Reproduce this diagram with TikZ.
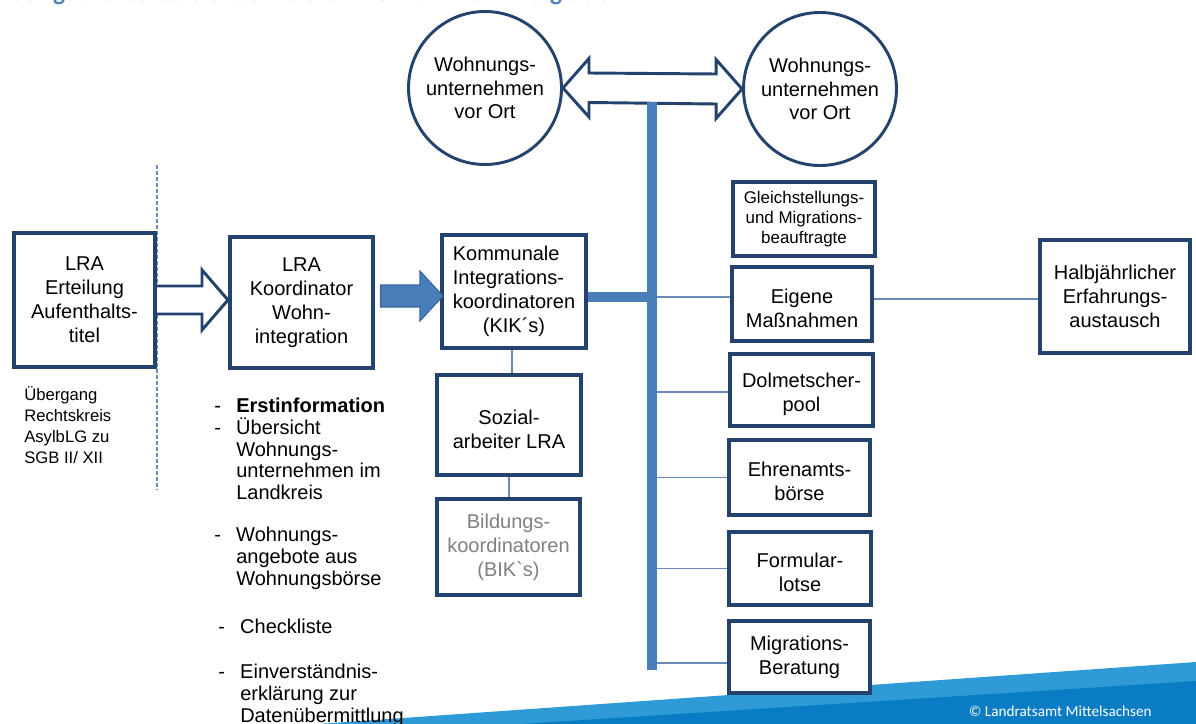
\documentclass[tikz,border=0pt]{standalone}
\usepackage{fontspec}
\setmainfont{Liberation Sans}[Ligatures=TeXOff]
\newfontfamily\calibri{Carlito}
\usetikzlibrary{calc}
\definecolor{navy}{HTML}{23426E}
\definecolor{accent}{HTML}{4A7EBB}
\definecolor{accentdark}{HTML}{3A6699}
\definecolor{thinln}{HTML}{6A8CB8}
\definecolor{titleblue}{HTML}{4F81BD}
\definecolor{bandlight}{HTML}{2E9BD6}
\definecolor{banddark}{HTML}{0A7CC4}
\definecolor{graytxt}{HTML}{808080}
\newcommand\dashitem{\makebox[16.5pt][l]{-}}
\newcommand\lowr{\rule{0pt}{17pt}}
\begin{document}
\begin{tikzpicture}[x=0.75pt,y=-0.75pt,
  box/.style 2 args={draw=navy, line width=3pt, minimum width=#1*0.75pt, minimum height=#2*0.75pt, inner sep=0pt, align=center, font=\fontsize{15}{18}\selectfont, fill=white},
  circ/.style={draw=navy, line width=2.2pt, circle, minimum size=153*0.75pt, inner sep=0pt, align=center, font=\fontsize{15}{17.6}\selectfont},
  thinline/.style={draw=thinln, line width=1.1pt},
  thickbar/.style={draw=accent, line width=7.5pt},
  hollow/.style={draw=navy, line width=2.2pt, fill=white, line join=miter},
  plain/.style={inner sep=0pt, align=left},
]
\useasboundingbox (0,0) rectangle (1196,724);
\clip (0,0) rectangle (1196,724);

% footer band
\fill[bandlight] (318,724) -- (1196,662) -- (1196,724) -- cycle;
\fill[banddark] (520,724) -- (1196,681) -- (1196,724) -- cycle;
\node[anchor=base east, text=white, inner sep=0pt, font=\calibri\fontsize{11.4}{13}\selectfont] (copy) at (1152,716) {© Landratsamt Mittelsachsen};

% title (cut off at the top, as in the original)
\node[anchor=base east, inner sep=0pt, text=titleblue, font=\calibri\bfseries\fontsize{19}{21}\selectfont] (title) at (625,1) {Abbildung 1: Unterstützende Maßnahmen zur Wohnintegration};

% dashed separator
\coordinate (dtop) at (157,165);
\coordinate (dbot) at (157,490);
\draw[draw=thinln, line width=1.2pt, dash pattern=on 3pt off 1.5pt] (dtop) -- (dbot);

% circles
\node[circ] (w1) at (485,88) {Wohnungs-\\unternehmen\\vor Ort};
\node[circ] (w2) at (820,89) {Wohnungs-\\unternehmen\\vor Ort};

% double block arrow between circles
\draw[hollow] (w1.east) -- ++(26,-29.5) -- ++(0,14.5) -- ($(w2.west)+(-26,-15)$) -- ++(0,-14.5) -- (w2.west) -- ++(-26,29.5) -- ++(0,-14.5) -- ($(w1.east)+(26,14.5)$) -- ++(0,14.5) -- cycle;

% boxes
\node[box={141}{134}] (lra1) at (84.5,300) {LRA\\Erteilung\\Aufenthalts-\\titel};
\node[box={143}{131}] (lra2) at (301.5,302.5) {LRA\\Koordinator\\Wohn-\\integration};
\node[box={144}{113}, align=left] (kik) at (514,291.5) {Kommunale\\Integrations-\\koordinatoren\\\hspace*{22.5pt}(KIK´s)};
\node[box={144}{100}] (sozial) at (509,425) {\lowr Sozial-\\arbeiter LRA};
\node[box={143}{96}, text=graytxt] (bik) at (508.5,547) {Bildungs-\\koordinatoren\\(BIK`s)};
\node[box={142}{74}, font=\fontsize{12.7}{15}\selectfont] (gleich) at (804,219) {Gleichstellungs-\\und Migrations-\\beauftragte};
\node[box={140}{74}] (eigene) at (802,304) {\lowr Eigene\\Maßnahmen};
\node[box={143}{72}] (dolm) at (801.5,390) {\lowr Dolmetscher-\\pool};
\node[box={141}{75}] (ehren) at (799.5,477.5) {\lowr Ehrenamts-\\börse};
\node[box={142}{73}] (form) at (800,568.5) {\lowr Formular-\\lotse};
\node[box={141}{72}] (migr) at (799.5,657) {Migrations-\\Beratung};
\node[box={150}{113}] (halb) at (1115,296.5) {Halbjährlicher\\Erfahrungs-\\austausch};

% bar
\coordinate (bartop) at (652,102);
\coordinate (barbot) at (652,670);

% thin branches
\coordinate (te) at ($(eigene.west)+(0,-7)$);
\coordinate (td) at ($(dolm.west)+(0,2)$);
\coordinate (tr) at ($(ehren.west)+(0,0)$);
\coordinate (tf) at ($(form.west)+(0,0)$);
\coordinate (tm) at ($(migr.west)+(0,6)$);
\draw[thinline] (bartop |- te) -- (te);
\draw[thinline] (bartop |- td) -- (td);
\draw[thinline] (bartop |- tr) -- (tr);
\draw[thinline] (bartop |- tf) -- (tf);
\draw[thinline] (bartop |- tm) -- (tm);
\coordinate (th) at ($(eigene.east)+(0,-5)$);
\draw[thinline] (th) -- (halb.west |- th);
\coordinate (k1) at ($(kik.south)+(-2,0)$);
\draw[thinline] (k1) -- (k1 |- sozial.north);
\draw[thinline] (sozial.south) -- (sozial.south |- bik.north);

\draw[thickbar] (bartop) -- (barbot);
\coordinate (kh) at ($(kik.east)+(0,5.5)$);
\draw[thickbar] (kh) -- (bartop |- kh);

% hollow arrow LRA1 -> LRA2
\coordinate (ha) at (lra1.east);
\coordinate (hb) at (lra2.west |- lra1.east);
\draw[hollow] ($(ha)+(0,-14)$) -- ($(hb)+(-26,-14)$) -- ++(0,-16) -- (hb) -- ++(-26,30) -- ++(0,-16) -- ($(ha)+(0,14)$);

% filled arrow LRA2 -> KIK
\coordinate (fa) at ($(lra2.east)+(5.5,-6.5)$);
\coordinate (fb) at ($(kik.west |- fa)+(3,0)$);
\filldraw[fill=accent, draw=accentdark, line width=0.8pt] ($(fa)+(0,-11)$) -- ($(fb)+(-23,-11)$) -- ($(fb)+(-23,-25)$) -- (fb) -- ($(fb)+(-23,25)$) -- ($(fb)+(-23,11)$) -- ($(fa)+(0,11)$) -- cycle;

% free texts
\node[plain, anchor=north west, font=\fontsize{12.5}{15.75}\selectfont] (ueb) at (24,386) {Übergang\\Rechtskreis\\AsylbLG zu\\SGB II/ XII};
\node[plain, anchor=north west, font=\fontsize{15}{16.3}\selectfont] (list) at (214,398) {\dashitem\textbf{Erstinformation}\\
\dashitem Übersicht\\
\hspace*{16.5pt}Wohnungs-\\
\hspace*{16.5pt}unternehmen im\\
\hspace*{16.5pt}Landkreis\\[15.4pt]
\dashitem Wohnungs-\\
\hspace*{16.5pt}angebote aus\\
\hspace*{16.5pt}Wohnungsbörse\\[19.5pt]
\hspace*{3pt}\dashitem Checkliste\\[17.8pt]
\hspace*{3pt}\dashitem Einverständnis-\\
\hspace*{19.5pt}erklärung zur\\
\hspace*{19.5pt}Datenübermittlung};
\end{tikzpicture}
\end{document}
